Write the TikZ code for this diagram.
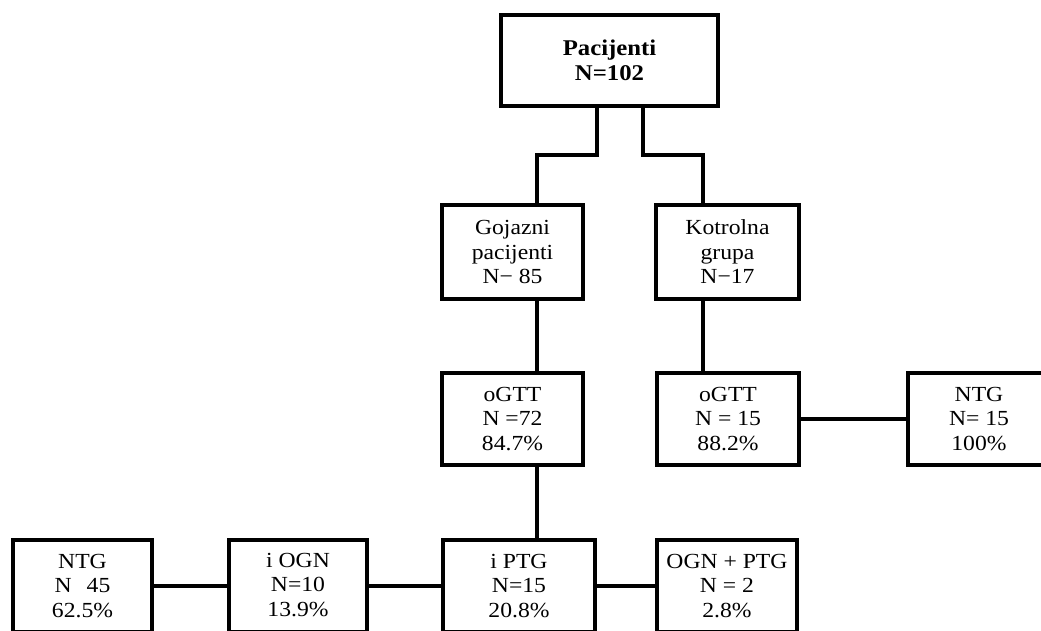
\documentclass[tikz,border=0pt]{standalone}
\usepackage{fontspec}
\setmainfont[FakeStretch=1.1]{Liberation Serif}
\begin{document}
\begin{tikzpicture}[x=1pt,y=-1pt,
  box/.style={draw=black,line width=4pt,fill=white,inner sep=0pt,align=center,
    font=\fontsize{21.5}{24.5}\selectfont},
  conn/.style={line width=3.5pt,draw=black}]
\clip (0,0) rectangle (1041,631);
\fill[white] (0,0) rectangle (1041,631);
% nodes
\node[box,minimum width=217pt,minimum height=91pt,font=\fontsize{22.5}{25.5}\selectfont\bfseries] (pac) at (609.5,60.5) {Pacijenti\\N=102};
\node[box,minimum width=141pt,minimum height=94pt] (goj) at (512.5,252) {Gojazni\\pacijenti\\N− 85};
\node[box,minimum width=143pt,minimum height=94pt] (kot) at (727.5,252) {Kotrolna\\grupa\\N−17};
\node[box,minimum width=141pt,minimum height=92pt] (og1) at (512.5,419) {oGTT\\N =72\\84.7\%};
\node[box,minimum width=142pt,minimum height=92pt] (og2) at (728,419) {oGTT\\N = 15\\88.2\%};
\node[box,minimum width=142pt,minimum height=92pt] (ntg2) at (979,419) {NTG\\N= 15\\100\%};
\node[box,minimum width=139pt,minimum height=92pt] (ntg1) at (82.5,586) {NTG\\N\hspace{0.7em}45\\62.5\%};
\node[box,minimum width=138pt,minimum height=92pt] (ogn) at (298,586) {\raisebox{3pt}{i OGN}\\\raisebox{3pt}{N=10}\\\raisebox{3pt}{13.9\%}};
\node[box,minimum width=152pt,minimum height=92pt] (ptg) at (519,586) {i PTG\\N=15\\20.8\%};
\node[box,minimum width=140pt,minimum height=92pt] (opt) at (727,586) {OGN + PTG\\N = 2\\2.8\%};
% junction coordinates
\coordinate (pL) at (597,155);
\coordinate (pR) at (643,155);
\coordinate (jL) at (537,155);
\coordinate (jR) at (703,155);
% connectors
\draw[conn] (pac.south -| pL) -- (pL) -- (jL) -- (jL |- goj.north);
\draw[conn] (pac.south -| pR) -- (pR) -- (jR) -- (jR |- kot.north);
\draw[conn] (goj.south -| jL) -- (jL |- og1.north);
\draw[conn] (kot.south -| jR) -- (jR |- og2.north);
\draw[conn] (og1.south -| jL) -- (jL |- ptg.north);
\draw[conn] (og2.east) -- (ntg2.west);
\draw[conn] (ntg1.east) -- (ogn.west);
\draw[conn] (ogn.east) -- (ptg.west);
\draw[conn,line width=4.5pt] (ptg.east) -- (opt.west);
\end{tikzpicture}
\end{document}
